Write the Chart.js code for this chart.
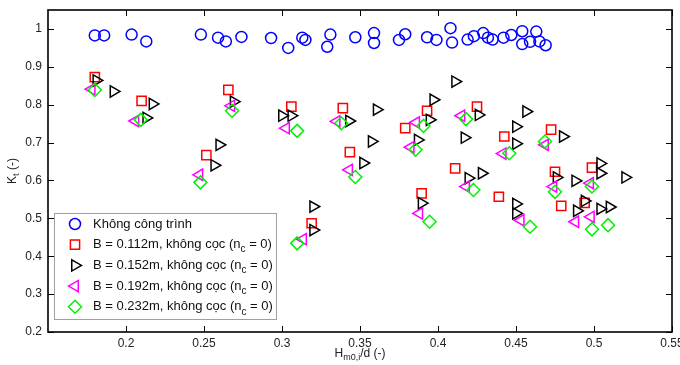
<!DOCTYPE html>
<html>
<head>
<meta charset="utf-8">
<script src="https://cdn.jsdelivr.net/npm/chart.js@4/dist/chart.umd.min.js"></script>
<style>
  html, body { margin: 0; padding: 0; background: #fff; }
  canvas { display: block; }
</style>
</head>
<body>
<canvas id="c" width="680" height="365"></canvas>
<script>
// ---------------- data ----------------
const xTicks = [0.2, 0.25, 0.3, 0.35, 0.4, 0.45, 0.5, 0.55];
const yTicks = [0.2, 0.3, 0.4, 0.5, 0.6, 0.7, 0.8, 0.9, 1.0];

const seriesLabels = [
  "Không công trình",
  "B = 0.112m, không cọc (n",
  "B = 0.152m, không cọc (n",
  "B = 0.192m, không cọc (n",
  "B = 0.232m, không cọc (n"
];

const noStructX = [0.180,0.186,0.2036,0.213,0.248,0.259,0.264,0.274,0.293,0.304,0.313,0.315,0.331,0.329,0.347,0.359,0.359,0.375,0.379,0.393,0.399,0.408,0.409,0.419,0.423,0.429,0.432,0.435,0.442,0.447,0.454,0.454,0.459,0.463,0.465,0.469];
const noStructY = [0.983,0.983,0.985,0.967,0.985,0.977,0.967,0.979,0.976,0.950,0.977,0.971,0.985,0.953,0.978,0.989,0.963,0.971,0.986,0.978,0.971,1.002,0.964,0.972,0.981,0.989,0.977,0.972,0.977,0.984,0.994,0.960,0.966,0.993,0.967,0.957];

const b112X = [0.180,0.210,0.2515,0.2656,0.306,0.319,0.339,0.3435,0.379,0.3895,0.393,0.411,0.425,0.439,0.4425,0.4725,0.475,0.479,0.494,0.4987];
const b112Y = [0.873,0.810,0.667,0.839,0.795,0.487,0.791,0.675,0.738,0.566,0.784,0.632,0.795,0.557,0.716,0.734,0.623,0.533,0.541,0.634];

const b152X = [0.181,0.192,0.217,0.213,0.2598,0.2566,0.269,0.300,0.306,0.320,0.320,0.343,0.3607,0.3575,0.352,0.411,0.397,0.3946,0.387,0.3895,0.426,0.417,0.428,0.4195,0.4565,0.450,0.450,0.450,0.450,0.480,0.476,0.488,0.504,0.504,0.520,0.489,0.494,0.504,0.510];
const b152Y = [0.864,0.835,0.802,0.765,0.694,0.640,0.808,0.771,0.771,0.531,0.469,0.757,0.787,0.703,0.646,0.861,0.813,0.760,0.707,0.540,0.773,0.713,0.619,0.606,0.782,0.742,0.697,0.538,0.513,0.716,0.608,0.599,0.645,0.619,0.608,0.520,0.546,0.525,0.530];

const b192X = [0.178,0.206,0.247,0.2675,0.3026,0.3135,0.335,0.343,0.3825,0.386,0.388,0.415,0.418,0.4415,0.453,0.4686,0.474,0.488,0.4975,0.498];
const b192Y = [0.841,0.757,0.615,0.797,0.738,0.445,0.756,0.628,0.688,0.753,0.513,0.771,0.584,0.671,0.495,0.694,0.584,0.491,0.593,0.504];

const b232X = [0.180,0.2094,0.2477,0.268,0.3097,0.3097,0.338,0.347,0.3856,0.3907,0.3946,0.418,0.4227,0.4457,0.459,0.4686,0.475,0.4987,0.4987,0.509];
const b232Y = [0.839,0.760,0.595,0.784,0.731,0.434,0.751,0.609,0.681,0.744,0.491,0.762,0.575,0.672,0.478,0.703,0.570,0.584,0.471,0.482];

// ---------------- helpers ----------------
const FONT = "'Liberation Sans', Arial, Helvetica, sans-serif";
const pts = (xs, ys) => xs.map((x, i) => ({ x: x, y: ys[i] }));
const fmt = v => String(Math.round(v * 100) / 100);

const styles = [
  { color: '#0000ff', pointStyle: 'circle',   radius: 5.5, rotation: 0 },
  { color: '#ff0000', pointStyle: 'rect',     radius: 6.5, rotation: 0 },
  { color: '#000000', pointStyle: 'triangle', radius: 6.5, rotation: 90 },
  { color: '#ff00ff', pointStyle: 'triangle', radius: 6.5, rotation: -90 },
  { color: '#00f000', pointStyle: 'rectRot',  radius: 6.5, rotation: 0 }
];
const seriesData = [
  pts(noStructX, noStructY),
  pts(b112X, b112Y),
  pts(b152X, b152Y),
  pts(b192X, b192Y),
  pts(b232X, b232Y)
];

const datasets = seriesData.map((d, i) => ({
  label: seriesLabels[i],
  data: d,
  order: 4 - i,
  pointStyle: styles[i].pointStyle,
  pointRadius: styles[i].radius,
  pointRotation: styles[i].rotation,
  pointBorderColor: styles[i].color,
  pointBackgroundColor: 'rgba(0,0,0,0)',
  pointBorderWidth: 1.5,
  borderColor: styles[i].color,
  backgroundColor: 'rgba(0,0,0,0)',
  showLine: false
}));

function drawMarker(ctx, st, x, y) {
  ctx.save();
  ctx.strokeStyle = st.color;
  ctx.lineWidth = 1.5;
  ctx.beginPath();
  const r = st.radius;
  if (st.pointStyle === 'circle') {
    ctx.arc(x, y, r, 0, Math.PI * 2);
  } else if (st.pointStyle === 'rect') {
    const s = Math.SQRT1_2 * r;
    ctx.rect(x - s, y - s, 2 * s, 2 * s);
  } else if (st.pointStyle === 'rectRot') {
    ctx.moveTo(x - r, y); ctx.lineTo(x, y - r); ctx.lineTo(x + r, y); ctx.lineTo(x, y + r); ctx.closePath();
  } else {
    let rad = st.rotation * Math.PI / 180;
    for (let k = 0; k < 3; k++) {
      const px = x + Math.sin(rad) * r, py = y - Math.cos(rad) * r;
      if (k === 0) ctx.moveTo(px, py); else ctx.lineTo(px, py);
      rad += 2 * Math.PI / 3;
    }
    ctx.closePath();
  }
  ctx.stroke();
  ctx.restore();
}

// draws main text with a subscript part and a trailing part; returns end x
function drawSubText(ctx, x, y, main, sub, tail, size, subSize, subDrop) {
  ctx.font = size + 'px ' + FONT;
  ctx.fillText(main, x, y);
  let cx = x + ctx.measureText(main).width;
  if (sub) {
    ctx.font = subSize + 'px ' + FONT;
    ctx.fillText(sub, cx, y + subDrop);
    cx += ctx.measureText(sub).width;
  }
  if (tail) {
    ctx.font = size + 'px ' + FONT;
    ctx.fillText(tail, cx, y);
    cx += ctx.measureText(tail).width;
  }
  return cx;
}

const framePlugin = {
  id: 'frame',
  afterDraw(chart) {
    const ctx = chart.ctx;
    const a = chart.chartArea;
    const xs = chart.scales.x, ys = chart.scales.y;
    ctx.save();
    // box
    ctx.strokeStyle = '#000';
    ctx.lineWidth = 1.6;
    ctx.strokeRect(a.left, a.top, a.right - a.left, a.bottom - a.top);
    // inward ticks
    ctx.lineWidth = 1;
    const tl = 6;
    ctx.beginPath();
    xTicks.forEach(v => {
      const px = Math.round(xs.getPixelForValue(v)) + 0.5;
      ctx.moveTo(px, a.bottom); ctx.lineTo(px, a.bottom - tl);
      ctx.moveTo(px, a.top); ctx.lineTo(px, a.top + tl);
    });
    yTicks.forEach(v => {
      const py = Math.round(ys.getPixelForValue(v)) + 0.5;
      ctx.moveTo(a.left, py); ctx.lineTo(a.left + tl, py);
      ctx.moveTo(a.right, py); ctx.lineTo(a.right - tl, py);
    });
    ctx.stroke();

    // axis titles
    ctx.fillStyle = '#222';
    ctx.textBaseline = 'middle';
    // x title: H_{m0,i}/d (-)
    ctx.font = '12px ' + FONT;
    const w1 = ctx.measureText('H').width;
    ctx.font = '9px ' + FONT;
    const w2 = ctx.measureText('m0,i').width;
    ctx.font = '12px ' + FONT;
    const w3 = ctx.measureText('/d (-)').width;
    const cxm = (a.left + a.right) / 2;
    drawSubText(ctx, cxm - (w1 + w2 + w3) / 2, 354, 'H', 'm0,i', '/d (-)', 12, 9, 4);
    // y title: K_t (-)
    ctx.save();
    ctx.translate(13, (a.top + a.bottom) / 2);
    ctx.rotate(-Math.PI / 2);
    ctx.font = '12px ' + FONT;
    const k1 = ctx.measureText('K').width;
    ctx.font = '9px ' + FONT;
    const k2 = ctx.measureText('t').width;
    ctx.font = '12px ' + FONT;
    const k3 = ctx.measureText(' (-)').width;
    drawSubText(ctx, -(k1 + k2 + k3) / 2, 0, 'K', 't', ' (-)', 12, 9, 4);
    ctx.restore();

    // legend box
    const lx = 54, ly = 213, lw = 222, lh = 106;
    ctx.fillStyle = '#fff';
    ctx.fillRect(lx, ly, lw, lh);
    ctx.strokeStyle = '#a0a0a0';
    ctx.lineWidth = 1;
    ctx.strokeRect(lx + 0.5, ly + 0.5, lw, lh);
    const rowY = [224, 244.7, 265.4, 286.1, 306.8];
    ctx.fillStyle = '#111';
    seriesLabels.forEach((lab, i) => {
      drawMarker(ctx, styles[i], 75, rowY[i]);
      ctx.textBaseline = 'middle';
      if (i === 0) {
        ctx.font = '13px ' + FONT;
        ctx.fillText(lab, 93, rowY[i]);
      } else {
        drawSubText(ctx, 93, rowY[i], lab, 'c', ' = 0)', 13, 10, 5);
      }
    });
    ctx.restore();
  }
};

const zeroPad = s => { s.paddingLeft = 0; s.paddingRight = 0; s.paddingTop = 0; s.paddingBottom = 0; };

new Chart(document.getElementById('c').getContext('2d'), {
  type: 'scatter',
  data: { datasets: datasets },
  options: {
    responsive: false,
    animation: false,
    events: [],
    layout: { padding: { top: 10, right: 7, left: 0, bottom: 0 } },
    plugins: { legend: { display: false }, tooltip: { enabled: false } },
    scales: {
      x: {
        type: 'linear', min: 0.15, max: 0.55,
        afterBuildTicks: s => { s.ticks = xTicks.map(v => ({ value: v })); },
        afterFit: s => { s.height = 33; zeroPad(s); },
        grid: { display: false, drawTicks: false },
        border: { display: false },
        ticks: { padding: 4, autoSkip: false, maxRotation: 0, color: '#222',
                 font: { family: FONT, size: 12 }, callback: v => fmt(v) }
      },
      y: {
        type: 'linear', min: 0.2, max: 1.05,
        afterBuildTicks: s => { s.ticks = yTicks.map(v => ({ value: v })); },
        afterFit: s => { s.width = 48; zeroPad(s); },
        grid: { display: false, drawTicks: false },
        border: { display: false },
        ticks: { padding: 6, autoSkip: false, color: '#222',
                 font: { family: FONT, size: 12 }, callback: v => fmt(v) }
      }
    }
  },
  plugins: [framePlugin]
});
</script>
</body>
</html>
